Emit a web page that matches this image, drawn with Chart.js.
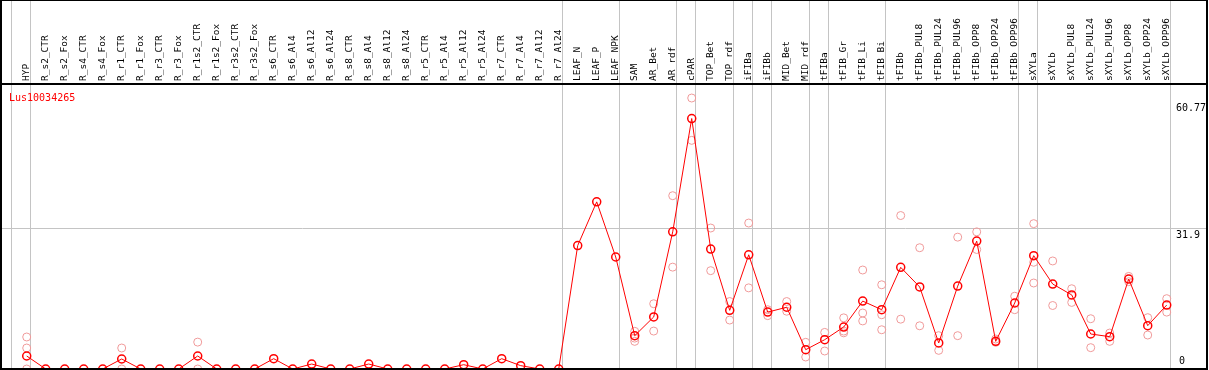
<!DOCTYPE html>
<html>
<head>
<meta charset="utf-8">
<script src="https://cdn.jsdelivr.net/npm/chart.js@4"></script>
<style>
  body { margin: 0; background: #fff; }
  #wrap { width: 1209px; height: 370px; }
</style>
</head>
<body>
<div id="wrap"><canvas id="exprChart" width="1209" height="370"></canvas></div>
<script>
const geneName = 'Lus10034265';

const categories = [
  'HYP', 'R_s2_CTR', 'R_s2_Fox', 'R_s4_CTR', 'R_s4_Fox', 'R_r1_CTR', 'R_r1_Fox',
  'R_r3_CTR', 'R_r3_Fox', 'R_r1s2_CTR', 'R_r1s2_Fox', 'R_r3s2_CTR', 'R_r3s2_Fox',
  'R_s6_CTR', 'R_s6_Al4', 'R_s6_Al12', 'R_s6_Al24', 'R_s8_CTR', 'R_s8_Al4',
  'R_s8_Al12', 'R_s8_Al24', 'R_r5_CTR', 'R_r5_Al4', 'R_r5_Al12', 'R_r5_Al24',
  'R_r7_CTR', 'R_r7_Al4', 'R_r7_Al12', 'R_r7_Al24', 'LEAF_N', 'LEAF_P', 'LEAF_NPK',
  'SAM', 'AR_Bet', 'AR_rdf', 'cPAR', 'TOP_Bet', 'TOP_rdf', 'iFIBa', 'iFIBb',
  'MID_Bet', 'MID_rdf', 'tFIBa', 'tFIB_Gr', 'tFIB_Li', 'tFIB_Bi', 'tFIBb',
  'tFIBb_PUL8', 'tFIBb_PUL24', 'tFIBb_PUL96', 'tFIBb_OPP8', 'tFIBb_OPP24', 'tFIBb_OPP96',
  'sXYLa', 'sXYLb', 'sXYLb_PUL8', 'sXYLb_PUL24', 'sXYLb_PUL96', 'sXYLb_OPP8',
  'sXYLb_OPP24', 'sXYLb_OPP96'
];

// mean expression per sample
const means = [
  2.95, 0, 0, 0, 0, 2.27, 0, 0, 0, 2.95, 0, 0, 0,
  2.34, 0, 1.13, 0, 0, 1.13, 0, 0, 0, 0, 0.98, 0,
  2.34, 0.76, 0, 0,
  28.0, 37.9, 25.4, 7.56, 11.8, 31.1, 56.8, 27.2, 13.3, 25.9, 12.9,
  14.0, 4.38, 6.65, 9.52, 15.4, 13.45, 23.05, 18.6, 5.9, 18.8, 29.0, 6.27, 14.97,
  25.7, 19.27, 16.8, 7.94, 7.33, 20.4, 9.83, 14.5
];

// individual replicates (light circles)
const replicates = [
  [7.26, 4.76, 0], [], [], [], [], [4.76, 0], [], [], [], [6.1, 0], [], [], [],
  [], [], [], [], [], [], [], [], [], [], [], [],
  [], [], [], [],
  [], [], [], [8.54, 6.27, 7.0], [14.8, 8.6], [39.3, 23.1], [61.45, 51.85],
  [31.97, 22.3], [15.3, 11.1], [33.1, 18.4], [13.45, 12.1],
  [15.3, 13.1], [6.05, 2.72], [8.3, 4.08], [11.6, 8.2, 8.6], [22.45, 12.7, 10.9],
  [19.1, 8.9, 12.3], [34.8, 11.3], [27.5, 9.8], [7.56, 4.23], [29.9, 7.56],
  [31.1, 27.1], [6.8, 6.05], [16.5, 13.45],
  [32.96, 19.5, 24.2], [24.5, 14.4], [18.2, 15.1], [11.4, 4.84], [8.16, 6.27],
  [21.0, 19.8], [11.64, 7.7], [15.95, 12.9]
];

// last sample of each group (separator drawn just after it)
const groupEnds = [-1, 0, 28, 31, 34, 35, 37, 38, 39, 41, 42, 45, 52, 53, 60];
const axisLabels = [60.77, 31.9, 0];
const gridValues = [31.9];

const monoFont = '"DejaVu Sans Mono", "Liberation Mono", monospace';

const meanPoints = means.map((v, i) => ({ x: i, y: v }));
const repPoints = [];
replicates.forEach((reps, i) => reps.forEach(v => repPoints.push({ x: i, y: v })));

const framePlugin = {
  id: 'frame',
  beforeDatasetsDraw(chart) {
    const { ctx, chartArea, scales } = chart;
    const xs = scales.x, ys = scales.y;
    ctx.save();
    ctx.strokeStyle = '#c4c4c4';
    ctx.lineWidth = 1;
    groupEnds.forEach(i => {
      const px = Math.round(xs.getPixelForValue(i + 0.19)) + 0.5;
      ctx.beginPath();
      ctx.moveTo(px, 0);
      ctx.lineTo(px, chartArea.bottom);
      ctx.stroke();
    });
    gridValues.forEach(v => {
      const py = Math.round(ys.getPixelForValue(v)) + 0.5;
      ctx.beginPath();
      ctx.moveTo(chartArea.left, py);
      ctx.lineTo(chartArea.right, py);
      ctx.stroke();
    });
    ctx.restore();
  },
  afterDraw(chart) {
    const { ctx, chartArea, scales } = chart;
    const ys = scales.y;
    ctx.save();
    ctx.strokeStyle = '#000';
    ctx.lineWidth = 2;
    ctx.strokeRect(chartArea.left, 0, chartArea.right - chartArea.left, chartArea.bottom);
    ctx.beginPath();
    ctx.moveTo(chartArea.left, chartArea.top);
    ctx.lineTo(chartArea.right, chartArea.top);
    ctx.stroke();

    ctx.font = '10px ' + monoFont;
    ctx.fillStyle = '#ff0000';
    ctx.textAlign = 'left';
    ctx.textBaseline = 'middle';
    ctx.fillText(geneName, chartArea.left + 8, chartArea.top + 14);

    ctx.fillStyle = '#000';
    axisLabels.forEach(v => {
      const py = ys.getPixelForValue(v);
      if (v === 0) {
        ctx.textBaseline = 'bottom';
        ctx.fillText(String(v), chartArea.right - 28, py - 3);
      } else {
        ctx.textBaseline = 'top';
        ctx.fillText(String(v), chartArea.right - 31, py + 2);
      }
    });
    ctx.restore();
  }
};

new Chart(document.getElementById('exprChart'), {
  type: 'scatter',
  data: {
    datasets: [
      {
        label: 'mean',
        data: meanPoints,
        showLine: true,
        borderColor: '#ff0000',
        borderWidth: 1,
        pointRadius: 4,
        pointBorderWidth: 1.5,
        pointBorderColor: '#ff0000',
        pointBackgroundColor: 'rgba(255,255,255,0)',
        clip: false,
        order: 0
      },
      {
        label: 'replicates',
        data: repPoints,
        showLine: false,
        pointRadius: 4,
        pointBorderWidth: 1,
        pointBorderColor: '#f09a9a',
        pointBackgroundColor: 'rgba(255,255,255,0)',
        clip: false,
        order: 1
      }
    ]
  },
  options: {
    responsive: false,
    animation: false,
    events: [],
    layout: { autoPadding: false, padding: { left: 1, right: 2, top: 0, bottom: 1 } },
    plugins: { legend: { display: false }, tooltip: { enabled: false } },
    scales: {
      x: {
        type: 'linear',
        position: 'top',
        min: -1.353,
        max: 62.12,
        afterBuildTicks: axis => { axis.ticks = categories.map((c, i) => ({ value: i })); },
        afterFit: axis => {
          axis.height = 84;
          axis.paddingLeft = 0;
          axis.paddingRight = 0;
        },
        grid: { display: false, drawTicks: false },
        border: { display: false },
        ticks: {
          autoSkip: false,
          minRotation: 90,
          maxRotation: 90,
          padding: 3,
          labelOffset: 11,
          color: '#000',
          font: { family: monoFont, size: 9.5 },
          callback: v => categories[v]
        }
      },
      y: {
        display: false,
        min: 0,
        max: 64.63
      }
    }
  },
  plugins: [framePlugin]
});
</script>
</body>
</html>
